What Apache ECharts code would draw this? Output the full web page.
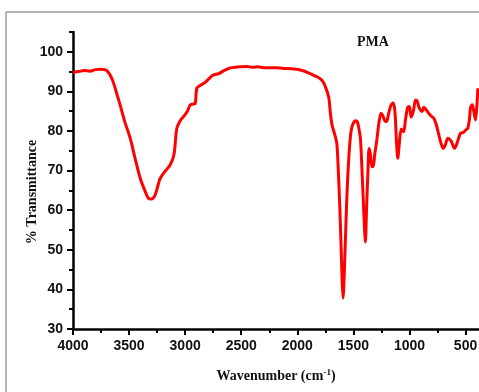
<!DOCTYPE html>
<html>
<head>
<meta charset="utf-8">
<script src="https://cdn.jsdelivr.net/npm/echarts@6/dist/echarts.min.js"></script>
<style>
html,body{margin:0;padding:0;background:#fff;}
#c{width:479px;height:392px;}
</style>
</head>
<body>
<div id="c"></div>
<script>
const wavenumber = [4000,3950,3900,3850,3800,3750,3700,3650,3600,3580,3540,3490,3450,3400,3360,3328,3300,3268,3240,3223,3180,3134,3100,3074,3040,3015,2980,2955,2930,2910,2896,2866,2820,2777,2750,2700,2650,2598,2550,2509,2450,2400,2350,2300,2200,2122,2050,1973,1900,1850,1824,1780,1750,1720,1705,1690,1660,1646,1620,1600,1592,1580,1560,1542,1525,1512,1495,1482,1465,1450,1437,1420,1405,1393,1383,1370,1360,1350,1335,1324,1310,1290,1270,1253,1240,1220,1205,1185,1165,1146,1130,1115,1104,1090,1074,1065,1051,1035,1015,1000,985,965,946,930,917,900,887,872,855,828,800,783,760,738,720,699,680,658,630,610,598,575,545,520,500,480,465,455,440,420,411,400,390];
const transmittance = [94.8,95.0,95.3,95.1,95.5,95.6,95.3,93.0,88.5,86.6,82.5,78.2,73.5,68,65,63,62.8,63.8,66.5,68,69.8,71.4,74,80.7,82.8,83.6,85,86.6,86.8,87,90.8,91.5,92.3,93.5,94.1,94.5,95.3,95.9,96.1,96.2,96.3,96.1,96.2,96.0,96.0,95.8,95.7,95.4,94.7,94.0,93.7,92.8,91.2,88.5,84.5,81.5,78.5,76.5,60,42,37.8,45,62,72.7,79,81.1,82.3,82.6,82.3,80.5,78,68,58,52,60,70,75.6,74.5,71,71,74,78,82.5,84.5,84.0,82.6,82.4,84.5,86.5,87.1,85,77,73.1,77,80.5,80.2,79.8,83,86,86.2,83.5,85,87.8,87.5,86.1,85.2,84.9,86.0,85.5,84.5,83.6,83.2,81.5,79,77,75.6,76.5,78.2,77.5,76.2,75.6,77,79.4,79.6,80.2,80.7,83,86,86.6,84,82.8,86,90.8];

const xMajorTicks = [500,1000,1500,2000,2500,3000,3500,4000];
const xMinorTicks = [750,1250,1750,2250,2750,3250,3750];
const yMajorTicks = [30,40,50,60,70,80,90,100];
const yMinorTicks = [35,45,55,65,75,85,95,105];

const seriesData = wavenumber.map((w, i) => [w, transmittance[i]]);

const chart = echarts.init(document.getElementById('c'), null, {renderer: 'canvas'});
const labelFont = {fontFamily: 'Liberation Sans, Arial, sans-serif', fontWeight: 'bold', fontSize: 14, color: '#111', formatter: v => String(v)};
const axisLineStyle = {color: '#000', width: 2.5};

chart.setOption({
  backgroundColor: '#fff',
  animation: false,
  grid: {left: 73, right: 0, top: 32, bottom: 63, containLabel: false, outerBoundsMode: 'none'},
  xAxis: [
    {
      type: 'value', inverse: true, min: 380, max: 4000, position: 'bottom',
      axisLine: {show: true, lineStyle: axisLineStyle, onZero: false},
      axisTick: {show: true, customValues: xMajorTicks, length: 6, lineStyle: {color: '#000', width: 2}},
      axisLabel: Object.assign({show: true, customValues: xMajorTicks, margin: 10, hideOverlap: false}, labelFont),
      splitLine: {show: false}
    },
    {
      type: 'value', inverse: true, min: 380, max: 4000, position: 'bottom',
      axisLine: {show: false, onZero: false},
      axisTick: {show: true, customValues: xMinorTicks, length: 4, lineStyle: {color: '#000', width: 2}},
      axisLabel: {show: false},
      splitLine: {show: false}
    }
  ],
  yAxis: [
    {
      type: 'value', min: 30, max: 105, position: 'left',
      axisLine: {show: true, lineStyle: axisLineStyle, onZero: false},
      axisTick: {show: true, customValues: yMajorTicks, length: 6, lineStyle: {color: '#000', width: 2}},
      axisLabel: Object.assign({show: true, customValues: yMajorTicks, margin: 10}, labelFont),
      splitLine: {show: false}
    },
    {
      type: 'value', min: 30, max: 105, position: 'left',
      axisLine: {show: false, onZero: false},
      axisTick: {show: true, customValues: yMinorTicks, length: 4, lineStyle: {color: '#000', width: 2}},
      axisLabel: {show: false},
      splitLine: {show: false}
    }
  ],
  series: [{
    type: 'line',
    xAxisIndex: 0, yAxisIndex: 0,
    data: seriesData,
    showSymbol: false,
    smooth: 0.3,
    lineStyle: {color: '#ff0000', width: 3},
    z: 1
  }],
  graphic: [
    {type: 'rect', z: -10, shape: {x: 6, y: 12, width: 600, height: 500}, style: {fill: 'none', stroke: '#6e6e6e', lineWidth: 1}},
    {type: 'text', x: 373, y: 42, style: {text: 'PMA', font: 'bold 14px "Liberation Serif", "Times New Roman", serif', fill: '#111', align: 'center', verticalAlign: 'middle'}},
    {type: 'text', x: 32, y: 192, rotation: Math.PI / 2, style: {text: '% Transmittance', font: 'bold 14px "Liberation Serif", "Times New Roman", serif', fill: '#111', align: 'center', verticalAlign: 'middle'}},
    {type: 'text', x: 276, y: 376, style: {
      text: '{t|Wavenumber (cm}{s|-1}{t|)}',
      align: 'center', verticalAlign: 'middle',
      rich: {
        t: {fontFamily: '"Liberation Serif", "Times New Roman", serif', fontWeight: 'bold', fontSize: 14, fill: '#111', lineHeight: 16},
        s: {fontFamily: '"Liberation Serif", "Times New Roman", serif', fontWeight: 'bold', fontSize: 9, fill: '#111', lineHeight: 16, padding: [0, 0, 7, 0]}
      }
    }}
  ]
});
</script>
</body>
</html>
